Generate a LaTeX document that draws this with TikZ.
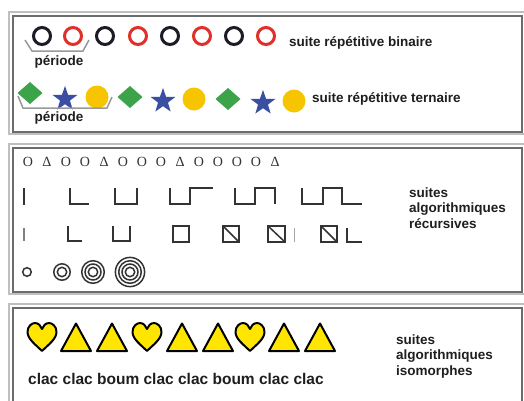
\documentclass[tikz,border=0pt]{standalone}
\usepackage{fontspec}
\setmainfont{Liberation Sans}
\newfontfamily\seriffont{Liberation Serif}
\usetikzlibrary{shapes.geometric}

\definecolor{ringblack}{HTML}{1C1C26}
\definecolor{ringred}{HTML}{E0302A}
\definecolor{diamgreen}{HTML}{3DA34A}
\definecolor{starblue}{HTML}{3A4EA2}
\definecolor{dotyellow}{HTML}{F7C500}
\definecolor{heartyellow}{HTML}{FFE600}
\definecolor{textdark}{HTML}{1E1E1E}
\definecolor{strokegray}{HTML}{333333}

\tikzset{
    frameouter/.style={draw=gray!50, line width=1.3pt},
    frameinner/.style={draw=gray!85!black, line width=1.3pt},
    bracketline/.style={draw=gray!80, line width=1.5pt},
    legendtxt/.style={font=\fontsize{13.5}{15.5}\selectfont\bfseries, text=textdark,
        anchor=west, align=left, inner sep=0pt},
    recline/.style={draw=strokegray, line width=1.5pt},
    yellowshape/.style={fill=heartyellow, draw=black, line width=2pt, line join=round},
    heart/.pic={
        \path [yellowshape] (0,14) .. controls (-6,8) and (-14.5,2) .. (-14.5,-5)
            .. controls (-14.5,-11) and (-10,-14) .. (-7,-14)
            .. controls (-3.5,-14) and (-1,-11) .. (0,-8)
            .. controls (1,-11) and (3.5,-14) .. (7,-14)
            .. controls (10,-14) and (14.5,-11) .. (14.5,-5)
            .. controls (14.5,2) and (6,8) .. (0,14) -- cycle;
    },
    tri/.pic={
        \path [yellowshape] (-15,14) -- (15,14) -- (0,-13.5) -- cycle;
    }
}

\begin{document}
\begin{tikzpicture}[x=1pt, y=-1pt]

    % Canvas
    \fill [white] (0,0) rectangle (524,400);
    \useasboundingbox (0,0) rectangle (524,400);

    % Frames
    \draw [frameouter] (9,12) rectangle (526,134);
    \draw [frameinner] (13,16) rectangle (522,132);
    \draw [frameouter] (9,144) rectangle (526,294);
    \draw [frameinner] (13,148) rectangle (522,292);
    \draw [frameouter] (9,304) rectangle (526,420);
    \draw [frameinner] (13,308) rectangle (522,420);

    % ---- Box 1 : repetitive sequences ----

    % binary rings
    \foreach \x/\col in {42/ringblack, 73/ringred, 105/ringblack, 138/ringred,
                         170/ringblack, 202/ringred, 234/ringblack, 266/ringred}
        \draw [\col, line width=3pt] (\x,36) circle [radius=8.5];

    \draw [bracketline] (25,40) -- (32,51) -- (83,51) -- (89,40);
    \node [legendtxt, anchor=center] (perA) at (59,62) {période};
    \node [legendtxt] (binaire) at (289,43) {suite répétitive binaire};

    % ternary : diamond, star, dot
    \foreach \x/\y in {30/93, 130/97, 228/99}
        \fill [diamgreen] (\x-12.5,\y) -- (\x,\y-11) -- (\x+12.5,\y) -- (\x,\y+11) -- cycle;
    \foreach \x/\y in {65/99, 163/101, 263/103}
        \node [star, star points=5, star point ratio=2.5, fill=starblue,
               minimum size=26, inner sep=0pt] at (\x,\y) {};
    \foreach \x/\y in {97/97, 194/99, 294/101}
        \fill [dotyellow] (\x,\y) circle [radius=11.5];

    \draw [bracketline] (18,96) -- (23,108) -- (107,108) -- (112,97);
    \node [legendtxt, anchor=center] (perB) at (59,118) {période};
    \node [legendtxt] (ternaire) at (312,99) {suite répétitive ternaire};

    % ---- Box 2 : recursive sequences ----

    % O / Delta row
    \foreach \s [count=\i from 0] in {O,Δ,O,O,Δ,O,O,O,Δ,O,O,O,O,Δ}
        \node [font=\seriffont\fontsize{14}{14}\selectfont, text=strokegray, inner sep=0pt]
            (sym\i) at (28+19*\i,162) {\s};

    % square waves
    \draw [recline] (24,188) -- (24,205);
    \draw [recline] (70,188) -- (70,204) -- (89,204);
    \draw [recline] (115,188) -- (115,204) -- (137,204) -- (137,188);
    \draw [recline] (170,188) -- (170,204) -- (190,204) -- (190,188) -- (213,188);
    \draw [recline] (235,188) -- (235,204) -- (255,204) -- (255,188) -- (275,188) -- (275,204);
    \draw [recline] (302,188) -- (302,204) -- (323,204) -- (323,188) -- (342,188)
        -- (342,204) -- (362,204);

    % squares
    \draw [recline, draw=gray] (24,228) -- (24,241);
    \draw [recline] (68,226) -- (68,241) -- (82,241);
    \draw [recline] (113,226) -- (113,241) -- (130,241) -- (130,226);
    \draw [recline] (173,226) rectangle (189,242);
    \draw [recline] (223,226) rectangle (239,242);
    \draw [recline] (223,226) -- (239,242);
    \draw [recline] (268,226) rectangle (285,242);
    \draw [recline] (268,226) -- (285,242);
    \draw [recline, draw=gray!70, line width=1pt] (294,228) -- (294,242);
    \draw [recline] (321,226) rectangle (337,242);
    \draw [recline] (321,226) -- (337,242);
    \draw [recline] (347,228) -- (347,242) -- (362,242);

    % concentric rings
    \draw [recline] (27,272) circle [radius=4.3];
    \foreach \r in {4.7, 8.2}
        \draw [recline] (62,272) circle [radius=\r];
    \foreach \r in {4.7, 8, 11.3}
        \draw [recline] (93,272) circle [radius=\r];
    \foreach \r in {4.7, 8, 11.3, 14.6}
        \draw [recline] (130,272) circle [radius=\r];

    \node [legendtxt] (recursives) at (409,208) {suites\\algorithmiques\\récursives};

    % ---- Box 3 : isomorphic sequences ----

    \pic at (42,337) {heart};
    \pic at (76,337) {tri};
    \pic at (112,337) {tri};
    \pic at (147,337) {heart};
    \pic at (182,337) {tri};
    \pic at (218,337) {tri};
    \pic at (250,337) {heart};
    \pic at (284,337) {tri};
    \pic at (320,337) {tri};

    \node [legendtxt, font=\fontsize{15.5}{17}\selectfont\bfseries] (clac) at (28,379)
        {clac clac boum clac clac boum clac clac};
    \node [legendtxt] (isomorphes) at (396,356) {suites\\algorithmiques\\isomorphes};

\end{tikzpicture}
\end{document}
